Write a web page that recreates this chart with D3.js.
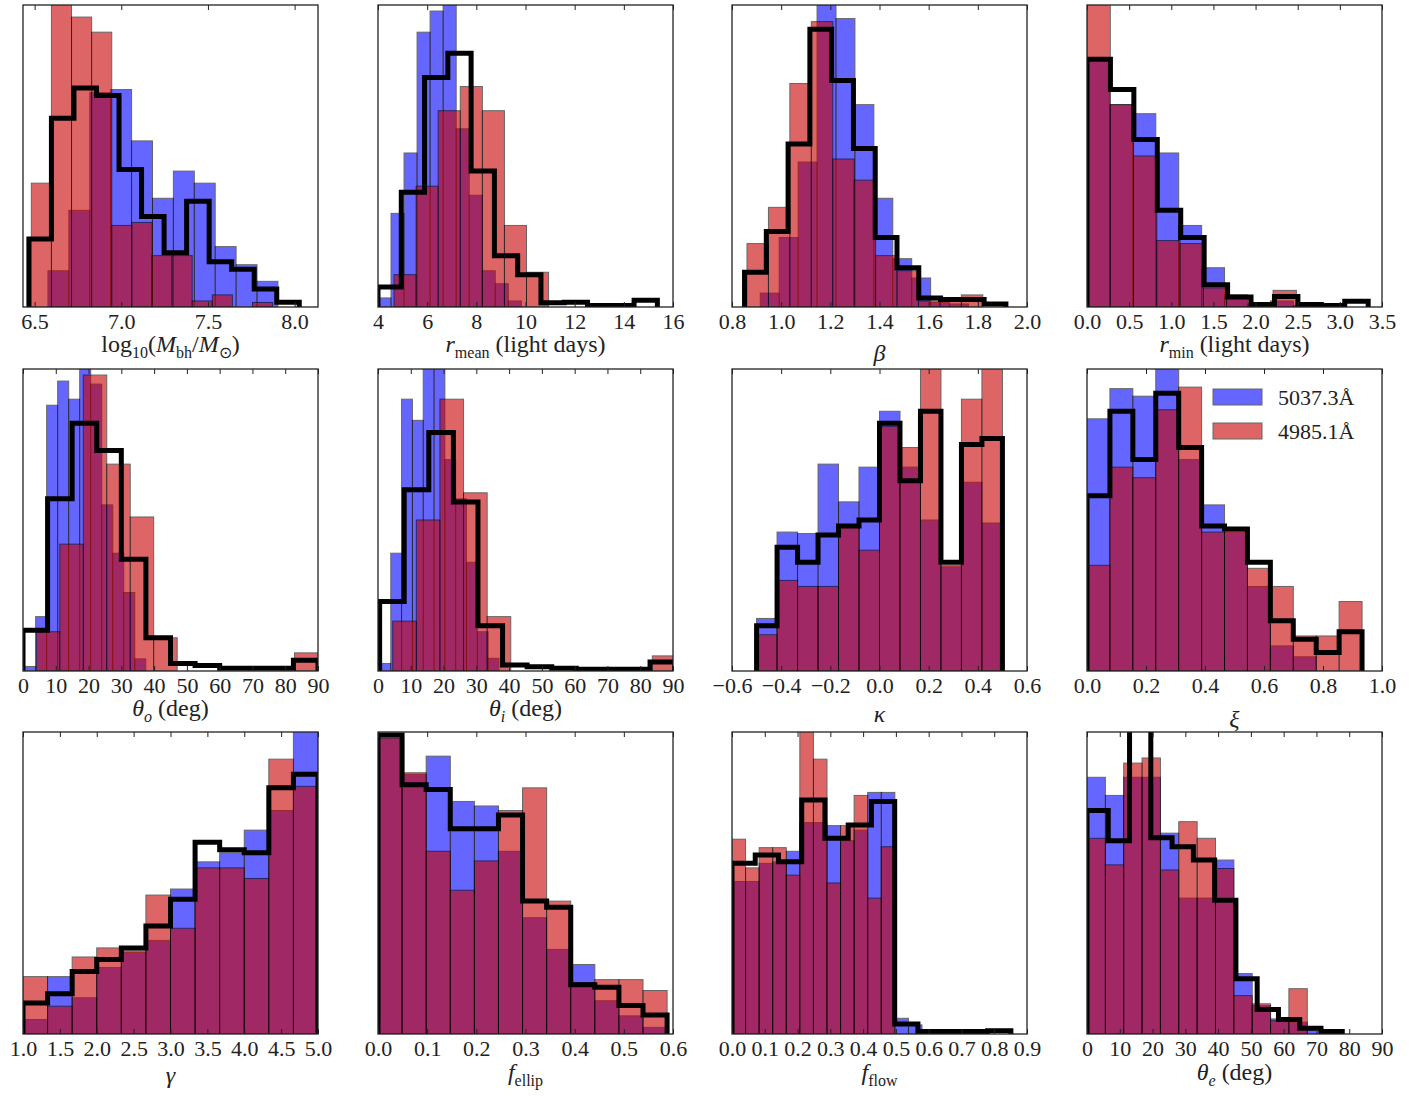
<!DOCTYPE html>
<html>
<head>
<meta charset="utf-8">
<script src="https://cdn.jsdelivr.net/npm/d3@7"></script>
<style>
  body { margin: 0; background: #fff; }
</style>
</head>
<body>
<div id="chart"></div>
<script>
// heights are read off the picture as % of the panel height (100 = top of box)
// edges: [first bin edge, bin width] for blue, red, black (combined)

// log10(Mbh/Msun)
const mbhDomain = [6.433, 8.135];
const mbhTicks = [6.5, 7.0, 7.5, 8.0];
const mbhEdges = [[6.577, 0.1206], [6.481, 0.116], [6.467, 0.130]];
const mbhBlue = [12, 32, 71, 72, 55, 36, 45, 41, 20, 14, 8.5];
const mbhRed = [41, 105, 96, 91, 27, 28, 17, 17, 2, 4, 0, 1.5];
const mbhAll = [22.5, 62.5, 72.5, 70, 45.5, 30, 18, 35, 15, 12.5, 6, 1.6];

// r_mean
const rmeanDomain = [4, 16];
const rmeanTicks = [4, 6, 8, 10, 12, 14, 16];
const rmeanEdges = [[4.0, 0.53], [4.653, 0.898], [4.0, 0.947]];
const rmeanBlue = [3, 31, 51, 91, 98, 105, 59, 37, 12, 7.7, 2];
const rmeanRed = [10.7, 40, 65, 73, 65, 27, 11.5];
const rmeanAll = [6.6, 38, 76, 84, 45, 17, 10.7, 1.4, 1.6, 0.5, 0.5, 2.2];

// beta
const betaDomain = [0.8, 2.0];
const betaTicks = [0.8, 1.0, 1.2, 1.4, 1.6, 1.8, 2.0];
const betaEdges = [[0.915, 0.077], [0.861, 0.0872], [0.851, 0.0886]];
const betaBlue = [4.6, 23, 48, 105, 95.5, 67, 36, 16, 9.6, 1.5, 1];
const betaRed = [21, 33, 74, 94.5, 49, 42, 17, 12, 2, 2, 4];
const betaAll = [11.5, 25, 54, 92, 75, 52.5, 23, 13, 3, 2.5, 2.5, 1];

// r_min
const rminDomain = [0, 3.5];
const rminTicks = [0, 0.5, 1.0, 1.5, 2.0, 2.5, 3.0, 3.5];
const rminEdges = [[0, 0.272], [0, 0.276], [0, 0.278]];
const rminBlue = [82, 67, 64, 51, 27, 13, 4, 1, 2, 0.5];
const rminRed = [105, 67, 50, 22, 21, 6.3, 3.7, 0, 5.5];
const rminAll = [82, 72, 55.5, 32, 23, 7.4, 3.3, 0.8, 3.5, 0.8, 0.5, 1.9];

// theta_o
const thetaoDomain = [0, 90];
const degTicks = [0, 10, 20, 30, 40, 50, 60, 70, 80, 90];
const thetaoEdges = [[0.5, 3.36], [4.07, 7.16], [0, 7.5]];
const thetaoBlue = [1.5, 18, 88, 96, 90, 101, 95, 55, 39, 26, 4];
const thetaoRed = [13, 42, 98, 68.5, 51, 11, 0, 0, 0, 0, 0, 6];
const thetaoAll = [13.5, 57, 82, 73, 37, 11, 2.5, 1.8, 0.9, 0.9, 0.9, 3.6];

// theta_i
const thetaiDomain = [0, 90];
const thetaiEdges = [[0.6, 3.3], [4.5, 7.2], [0.5, 7.5]];
const thetaiBlue = [2.5, 39, 90, 83, 105, 105, 70, 57, 36, 13, 4.2];
const thetaiRed = [16.5, 50, 90, 59, 18, 0, 0, 0, 0, 0, 0, 5];
const thetaiAll = [23, 60, 79, 56, 15, 2, 1.4, 0.9, 0.6, 0.6, 0.6, 3];

// kappa
const kappaDomain = [-0.6, 0.6];
const kappaTicks = [-0.6, -0.4, -0.2, 0.0, 0.2, 0.4, 0.6];
const kappaEdges = [[-0.5, 1 / 12], [-0.5, 1 / 12], [-0.5, 1 / 12]];
const kappaBlue = [17.4, 46, 45.5, 68.5, 56, 67.5, 86, 67.5, 50, 34.5, 62.5, 49];
const kappaRed = [12, 30, 28, 28, 48, 40, 81, 74, 105, 35, 90, 105];
const kappaAll = [15, 41, 36, 45, 48, 50, 82, 63, 86, 36, 75, 77];

// xi
const xiDomain = [0, 1];
const xiTicks = [0, 0.2, 0.4, 0.6, 0.8, 1.0];
const xiEdges = [[0, 0.0777], [0, 0.0777], [0, 0.0777]];
const xiBlue = [83.5, 93.5, 91, 105, 70, 55, 46, 28, 8.3, 4.7, 0, 0];
const xiRed = [35, 67.5, 64, 86.5, 94, 46, 46.5, 34, 28, 11.6, 11.6, 23];
const xiAll = [58, 86, 70, 92, 74, 48, 47, 36, 16.6, 10.5, 6.1, 13];

// gamma
const gammaDomain = [1, 5];
const gammaTicks = [1.0, 1.5, 2.0, 2.5, 3.0, 3.5, 4.0, 4.5, 5.0];
const gammaEdges = [[1, 1 / 3], [1, 1 / 3], [1, 1 / 3]];
const gammaBlue = [4.8, 19, 12, 22, 27, 31, 48, 57, 60, 67.5, 74, 105];
const gammaRed = [19, 9.2, 25.5, 28.5, 27.5, 46, 35, 55, 55, 51.5, 91, 82];
const gammaAll = [10.3, 13.3, 20.7, 24.7, 28.5, 35.8, 44.6, 63.5, 61, 60, 81.5, 86];

// f_ellip
const fellipDomain = [0, 0.6];
const fellipTicks = [0, 0.1, 0.2, 0.3, 0.4, 0.5, 0.6];
const fellipEdges = [[0, 0.049], [0, 0.049], [0, 0.049]];
const fellipBlue = [98, 86, 92, 77, 75.5, 60.5, 38.5, 28, 23, 11, 6, 2.2];
const fellipRed = [98, 86.5, 60.5, 47.6, 57.3, 74, 81.5, 44, 17, 18, 18, 14.4];
const fellipAll = [99, 82.5, 81, 68, 68, 72.5, 44, 42, 16.3, 15.5, 9.4, 6.3];

// f_flow
const fflowDomain = [0, 0.9];
const fflowTicks = [0, 0.1, 0.2, 0.3, 0.4, 0.5, 0.6, 0.7, 0.8, 0.9];
const fflowEdges = [[0, 0.0414], [0, 0.0414], [0, 0.0709]];
const fflowBlue = [50.5, 50.5, 56.5, 57, 60.5, 70, 70, 69, 64, 67.5, 80, 80, 5.2, 3];
const fflowRed = [64.5, 55, 61.7, 61.7, 52.6, 105, 91, 50, 69, 79, 45, 62];
const fflowAll = [56.5, 59.3, 57, 77.5, 64.8, 69.2, 77, 3.3, 0.8, 0.8, 0.8, 1.1];

// theta_e
const thetaeDomain = [0, 90];
const thetaeEdges = [[0, 5.6], [0, 5.6], [0, 6.49]];
const thetaeBlue = [85, 79, 85, 85, 66.5, 45, 45, 57.6, 20, 9.4, 5, 3.9, 1.4];
const thetaeRed = [64.8, 56, 89.7, 91.4, 54.3, 70.3, 64.8, 54.8, 12.7, 10, 4.4, 15];
const thetaeAll = [74, 64, 105, 65, 62, 57.6, 44.3, 18.3, 8.1, 4.8, 1.9, 0.8];

const legendNames = ["5037.3Å", "4985.1Å"];

// label pieces: [text, kind]  kind: "" roman, "i" italic, "s" roman subscript, "si" italic subscript
const labels = [
  [["log", ""], ["10", "s"], ["(", ""], ["M", "i"], ["bh", "s"], ["/", ""], ["M", "i"], ["⊙", "s"], [")", ""]],
  [["r", "i"], ["mean", "s"], [" (light days)", ""]],
  [["β", "i"]],
  [["r", "i"], ["min", "s"], [" (light days)", ""]],
  [["θ", "i"], ["o", "si"], [" (deg)", ""]],
  [["θ", "i"], ["i", "si"], [" (deg)", ""]],
  [["κ", "i"]],
  [["ξ", "i"]],
  [["γ", "i"]],
  [["f", "i"], ["ellip", "s"]],
  [["f", "i"], ["flow", "s"]],
  [["θ", "i"], ["e", "si"], [" (deg)", ""]]
];

const f1 = d3.format(".1f"), f0 = d3.format("d");
const panels = [
  {domain: mbhDomain, ticks: mbhTicks, fmt: f1, edges: mbhEdges, blue: mbhBlue, red: mbhRed, all: mbhAll},
  {domain: rmeanDomain, ticks: rmeanTicks, fmt: f0, edges: rmeanEdges, blue: rmeanBlue, red: rmeanRed, all: rmeanAll},
  {domain: betaDomain, ticks: betaTicks, fmt: f1, edges: betaEdges, blue: betaBlue, red: betaRed, all: betaAll},
  {domain: rminDomain, ticks: rminTicks, fmt: f1, edges: rminEdges, blue: rminBlue, red: rminRed, all: rminAll},
  {domain: thetaoDomain, ticks: degTicks, fmt: f0, edges: thetaoEdges, blue: thetaoBlue, red: thetaoRed, all: thetaoAll},
  {domain: thetaiDomain, ticks: degTicks, fmt: f0, edges: thetaiEdges, blue: thetaiBlue, red: thetaiRed, all: thetaiAll},
  {domain: kappaDomain, ticks: kappaTicks, fmt: f1, edges: kappaEdges, blue: kappaBlue, red: kappaRed, all: kappaAll},
  {domain: xiDomain, ticks: xiTicks, fmt: f1, edges: xiEdges, blue: xiBlue, red: xiRed, all: xiAll},
  {domain: gammaDomain, ticks: gammaTicks, fmt: f1, edges: gammaEdges, blue: gammaBlue, red: gammaRed, all: gammaAll},
  {domain: fellipDomain, ticks: fellipTicks, fmt: f1, edges: fellipEdges, blue: fellipBlue, red: fellipRed, all: fellipAll},
  {domain: fflowDomain, ticks: fflowTicks, fmt: f1, edges: fflowEdges, blue: fflowBlue, red: fflowRed, all: fflowAll},
  {domain: thetaeDomain, ticks: degTicks, fmt: f0, edges: thetaeEdges, blue: thetaeBlue, red: thetaeRed, all: thetaeAll}
];

const width = 1422, height = 1096;
const W = 295, H = 302;
const colLeft = [23, 378, 732, 1087];
const rowTop = [5, 369, 732];
const labelDy = [45, 45, 54, 45, 45, 45, 51, 56, 49, 46, 46, 46];
const FONT = "'Liberation Serif','Times New Roman',serif";
const blueColor = "rgb(0,0,255)", redColor = "rgb(200,0,0)";
const alpha = 0.6;

const svg = d3.select("#chart")
  .append("svg")
  .attr("width", width)
  .attr("height", height)
  .style("background", "#fff");

function drawBars(g, counts, edge, color, x, y) {
  const [s, w] = edge;
  g.append("g")
    .selectAll("rect")
    .data(counts.map((c, i) => ({c, i})).filter(d => d.c > 0))
    .join("rect")
    .attr("x", d => x(s + d.i * w))
    .attr("width", d => x(s + (d.i + 1) * w) - x(s + d.i * w))
    .attr("y", d => y(d.c))
    .attr("height", d => y(0) - y(d.c))
    .attr("fill", color)
    .attr("stroke", "#000")
    .attr("stroke-width", 1)
    .attr("opacity", alpha);
}

function drawStep(g, counts, edge, x, y) {
  const [s, w] = edge;
  const pts = [[s, 0]];
  counts.forEach((c, i) => pts.push([s + i * w, c]));
  pts.push([s + counts.length * w, 0]);
  const line = d3.line()
    .x(d => x(d[0]))
    .y(d => y(d[1]))
    .curve(d3.curveStepAfter);
  g.append("path")
    .attr("d", line(pts))
    .attr("fill", "none")
    .attr("stroke", "#000")
    .attr("stroke-width", 5)
    .attr("stroke-linejoin", "miter");
}

panels.forEach((p, k) => {
  const g = svg.append("g")
    .attr("transform", `translate(${colLeft[k % 4]},${rowTop[Math.floor(k / 4)]})`);
  const x = d3.scaleLinear().domain(p.domain).range([0, W]);
  const y = d3.scaleLinear().domain([0, 100]).range([H, 0]);

  g.append("clipPath").attr("id", "clip" + k)
    .append("rect").attr("width", W).attr("height", H);
  const plot = g.append("g").attr("clip-path", `url(#clip${k})`);

  drawBars(plot, p.blue, p.edges[0], blueColor, x, y);
  drawBars(plot, p.red, p.edges[1], redColor, x, y);
  drawStep(plot, p.all, p.edges[2], x, y);

  // ticks in, top and bottom, no y ticks
  const xb = g.append("g")
    .attr("transform", `translate(0,${H})`)
    .call(d3.axisBottom(x).tickValues(p.ticks).tickFormat(p.fmt).tickSize(-5).tickPadding(6));
  xb.select(".domain").remove();
  xb.selectAll("line").attr("stroke", "#222");
  xb.selectAll("text")
    .attr("font-family", FONT)
    .attr("font-size", 22)
    .attr("fill", "#222");
  const xt = g.append("g")
    .call(d3.axisTop(x).tickValues(p.ticks).tickFormat("").tickSize(-5));
  xt.select(".domain").remove();
  xt.selectAll("line").attr("stroke", "#222");

  g.append("rect")
    .attr("width", W).attr("height", H)
    .attr("fill", "none")
    .attr("stroke", "#222")
    .attr("stroke-width", 1.3);

  // axis label with sub/italic parts
  const t = g.append("text")
    .attr("x", W / 2)
    .attr("y", H + labelDy[k])
    .attr("text-anchor", "middle")
    .attr("font-family", FONT)
    .attr("font-size", 24)
    .attr("fill", "#222");
  let shift = 0;
  labels[k].forEach(([txt, kind]) => {
    const sub = kind[0] === "s";
    const want = sub ? 6 : 0;
    t.append("tspan")
      .attr("dy", want - shift)
      .attr("font-size", sub ? 16 : 24)
      .attr("font-style", kind.includes("i") ? "italic" : "normal")
      .text(txt);
    shift = want;
  });
});

// legend inside the xi panel
const lg = svg.append("g").attr("transform", `translate(${colLeft[3]},${rowTop[1]})`);
[blueColor, redColor].forEach((c, i) => {
  lg.append("rect")
    .attr("x", 126).attr("y", 20 + i * 34)
    .attr("width", 49).attr("height", 16)
    .attr("fill", c).attr("stroke", "#000").attr("opacity", alpha);
  lg.append("text")
    .attr("x", 191).attr("y", 36 + i * 34)
    .attr("font-family", FONT)
    .attr("font-size", 22)
    .attr("fill", "#222")
    .text(legendNames[i]);
});
</script>
</body>
</html>
